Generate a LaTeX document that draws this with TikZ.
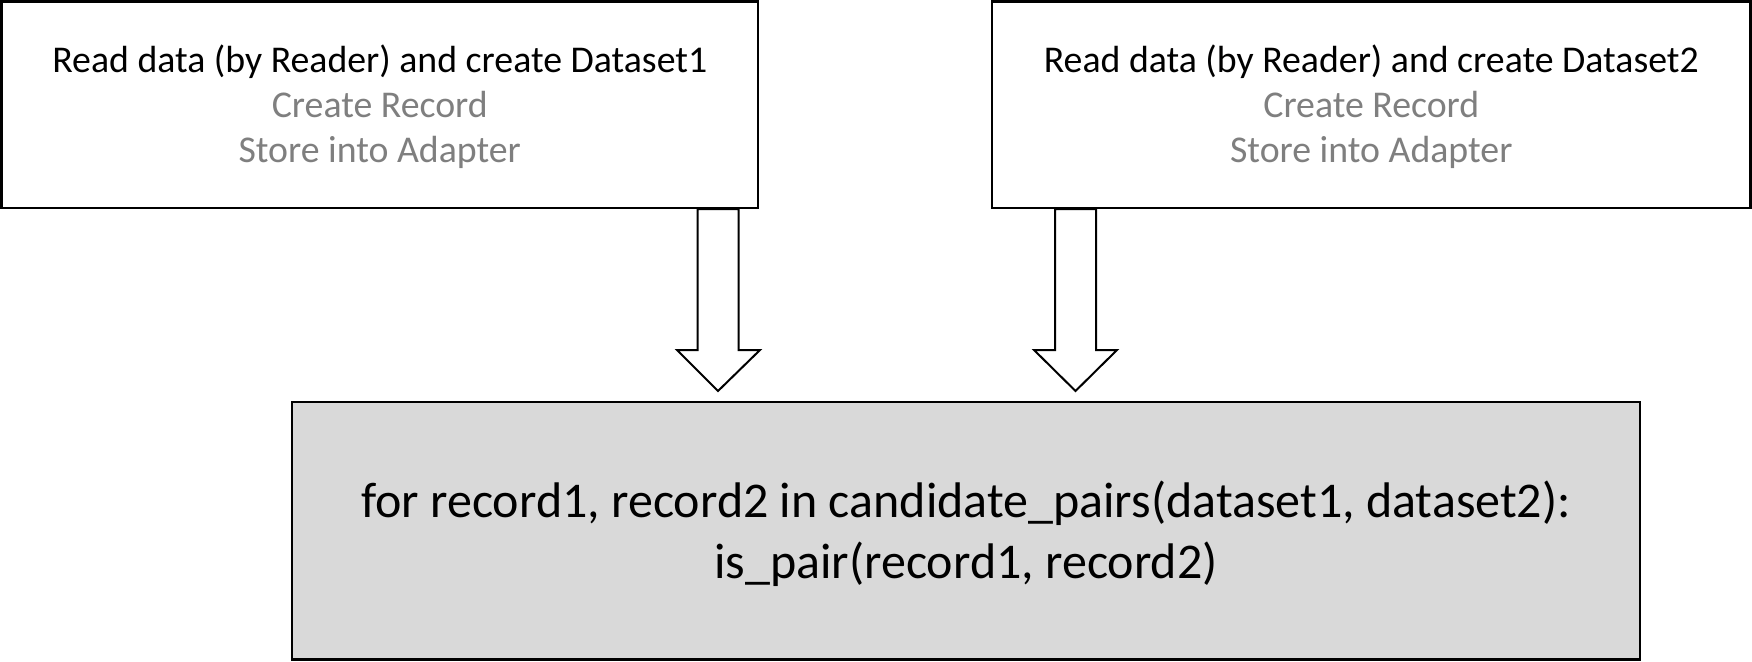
\documentclass[tikz,border=0pt]{standalone}
\usepackage{fontspec}
\setmainfont{Carlito}
\usetikzlibrary{calc}
\definecolor{txtgray}{HTML}{7F7F7F}
\definecolor{boxfill}{HTML}{D9D9D9}
\begin{document}
\begin{tikzpicture}[x=1pt,y=1pt,
  topbox/.style={draw=black,line width=2.5pt,fill=white},
  botbox/.style={draw=black,line width=2.5pt,fill=boxfill},
  blockarrow/.style={draw=black,line width=2pt,fill=white,line join=miter},
  toptext/.style={align=center,font=\fontsize{37.8}{45}\selectfont,inner sep=0pt},
  bottext/.style={align=center,font=\fontsize{50}{61}\selectfont,inner sep=0pt}]
\useasboundingbox (0,0) rectangle (1752,-661);
% block arrows
\draw[blockarrow] (697.5,-209) -- (738.5,-209) -- (738.5,-350) -- (760,-350) -- (718,-391) -- (677,-350) -- (697.5,-350) -- cycle;
\draw[blockarrow] (1055,-209) -- (1096,-209) -- (1096,-350) -- (1117,-350) -- (1075.5,-391) -- (1034,-350) -- (1055,-350) -- cycle;
% boxes
\draw[topbox] (1.5,-1.5) rectangle (758,-208);
\coordinate (b1c) at (379.75,-107);
\node[toptext] (t1) at (b1c) {Read data (by Reader) and create Dataset1\\\textcolor{txtgray}{Create Record}\\\textcolor{txtgray}{Store into Adapter}};
\draw[topbox] (992,-1.5) rectangle (1750.5,-208);
\coordinate (b2c) at (1371.25,-107);
\node[toptext] (t2) at (b2c) {Read data (by Reader) and create Dataset2\\\textcolor{txtgray}{Create Record}\\\textcolor{txtgray}{Store into Adapter}};
\draw[botbox] (292,-402) rectangle (1640,-659.5);
\node[bottext] (t3) at (966,-534) {for record1, record2 in candidate\_pairs(dataset1, dataset2):\\is\_pair(record1, record2)};
\end{tikzpicture}
\end{document}
